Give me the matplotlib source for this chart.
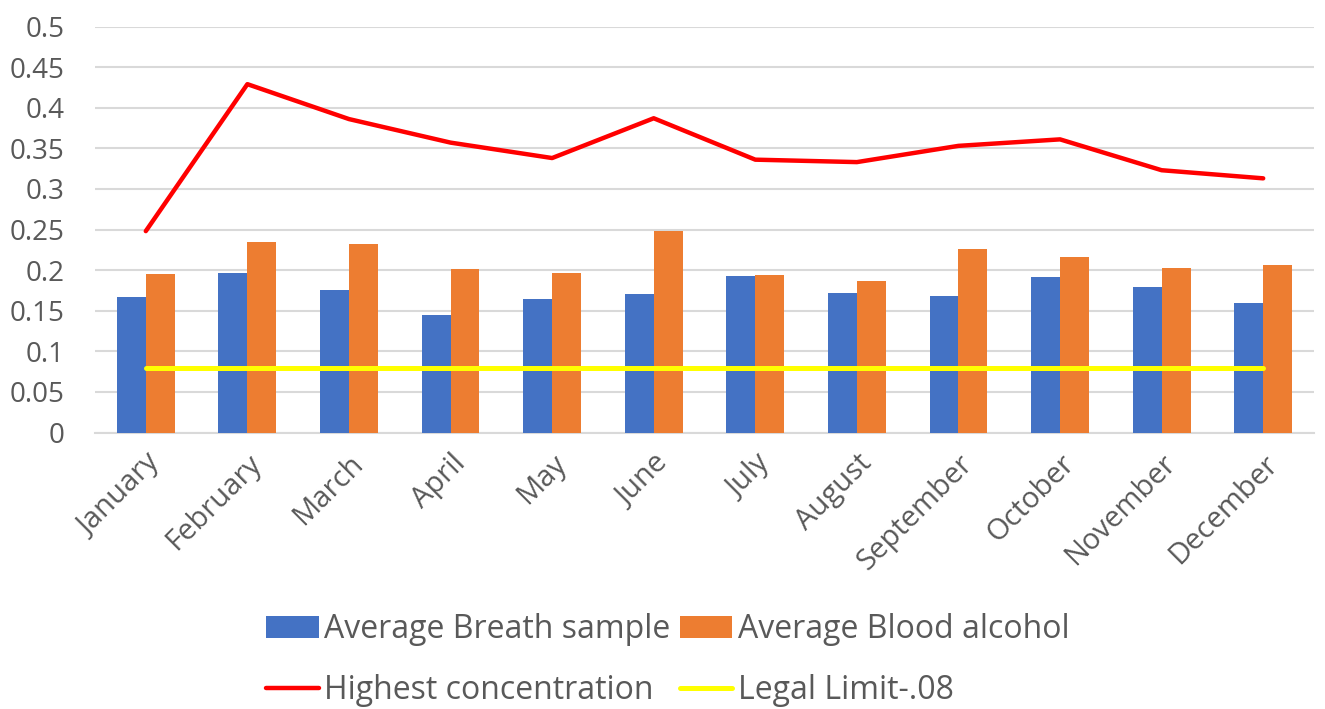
import matplotlib
matplotlib.use("Agg")
import matplotlib.pyplot as plt
import numpy as np

months = ["January", "February", "March", "April", "May", "June", "July",
          "August", "September", "October", "November", "December"]
breath = [0.167, 0.196, 0.175, 0.145, 0.165, 0.171, 0.193, 0.172, 0.168, 0.191, 0.179, 0.159]
blood = [0.195, 0.234, 0.232, 0.201, 0.197, 0.248, 0.194, 0.187, 0.226, 0.216, 0.202, 0.206]
highest = [0.248, 0.429, 0.386, 0.357, 0.338, 0.387, 0.336, 0.333, 0.353, 0.361, 0.323, 0.313]
legal = [0.08] * 12
yticks = [0, 0.05, 0.1, 0.15, 0.2, 0.25, 0.3, 0.35, 0.4, 0.45, 0.5]
ytick_labels = ["0", "0.05", "0.1", "0.15", "0.2", "0.25", "0.3", "0.35", "0.4", "0.45", "0.5"]

plt.rcParams['font.family'] = ['Open Sans', 'DejaVu Sans']
txt = "#595959"

fig = plt.figure(figsize=(13.25, 7.09), dpi=100)
ax = fig.add_axes([95/1325, 1-432.5/709, (1314-95)/1325, (432.5-26.5)/709])

x = np.arange(len(months))
w = 0.285
ax.bar(x - w/2, breath, w, color="#4472C4", label="Average Breath sample", zorder=3)
ax.bar(x + w/2, blood, w, color="#ED7D31", label="Average Blood alcohol", zorder=3)
ax.plot(x, highest, color="#FF0000", lw=3.2, solid_capstyle="round", solid_joinstyle="round",
        label="Highest concentration", zorder=4)
ax.plot(x, legal, color="#FFFF00", lw=3.6, solid_capstyle="round",
        label="Legal Limit-.08", zorder=4)

ax.set_xlim(-0.5, len(months) - 0.5)
ax.set_ylim(0, 0.5)
ax.set_yticks(yticks)
ax.set_yticklabels(ytick_labels, fontsize=20, color=txt)
ax.set_xticks(x)
ax.set_xticklabels(months, rotation=45, ha="right", rotation_mode="anchor",
                   fontsize=21, color=txt)
ax.tick_params(axis="y", length=0, pad=22)
ax.tick_params(axis="x", length=0, pad=12)
ax.grid(axis="y", color="#d9d9d9", lw=1.5, zorder=0)
for s in ["top", "right", "left"]:
    ax.spines[s].set_visible(False)
ax.spines["bottom"].set_color("#d9d9d9")
ax.spines["bottom"].set_linewidth(1.5)

h, l = ax.get_legend_handles_labels()
hd = dict(zip(l, h))
labs = ["Average Breath sample", "Highest concentration", "Average Blood alcohol", "Legal Limit-.08"]
leg = fig.legend([hd[k] for k in labs], labs, loc="center", bbox_to_anchor=(668/1325, 1-660/709),
                 ncol=2, frameon=False, fontsize=23, handlelength=1.63, handleheight=0.66,
                 handletextpad=0.18, columnspacing=0.3, labelspacing=0.85)
for t in leg.get_texts():
    t.set_color(txt)

fig.savefig("out.png", dpi=100)
